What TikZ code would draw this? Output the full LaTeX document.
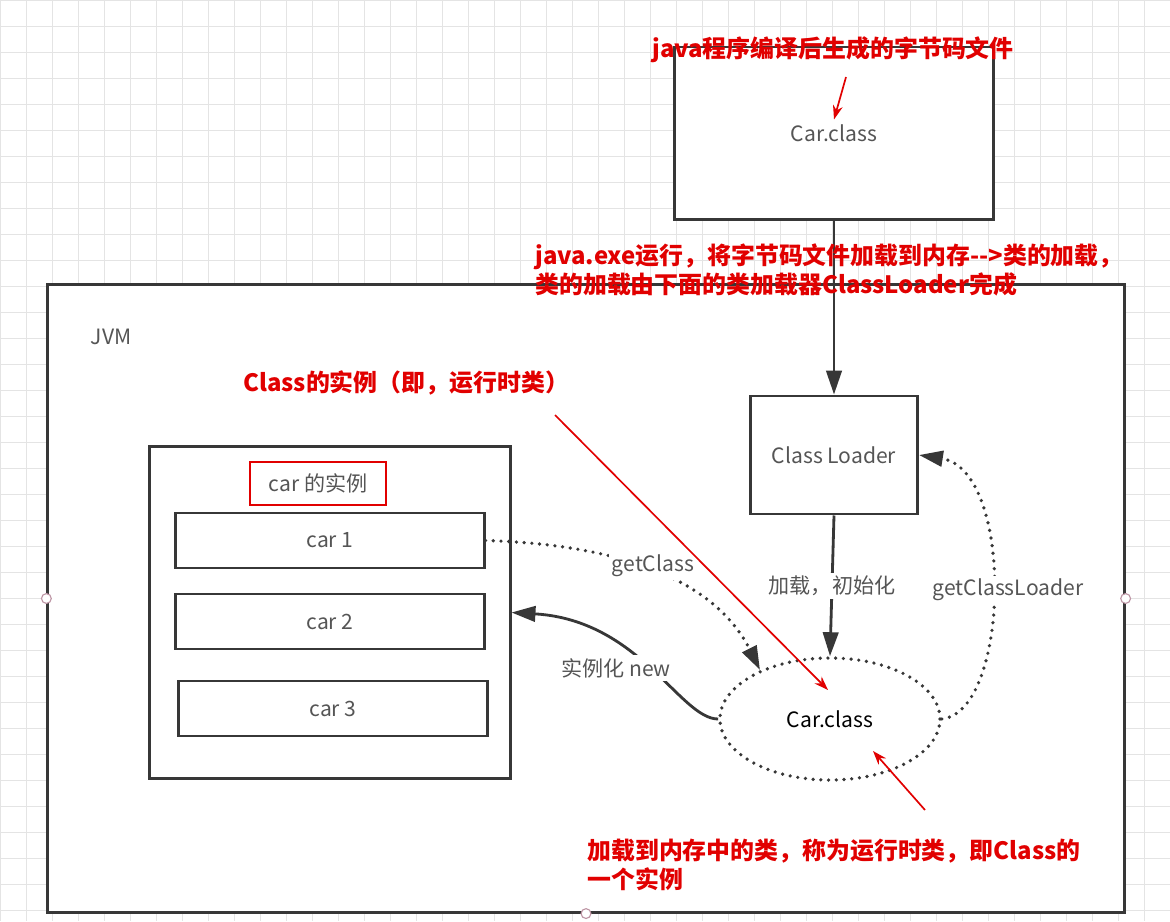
\documentclass[tikz,border=0pt]{standalone}
\usepackage{fontspec}
\setmainfont{Noto Sans CJK SC}
\usetikzlibrary{arrows.meta,shapes.geometric}
\definecolor{inkgray}{RGB}{55,55,55}
\definecolor{txtgray}{RGB}{85,85,85}
\definecolor{notered}{RGB}{225,0,0}
\definecolor{gridgray}{RGB}{228,228,228}
\definecolor{handlecol}{RGB}{190,150,165}

\begin{document}
\begin{tikzpicture}[x=0.025cm,y=-0.025cm,
    box/.style={draw=inkgray, line width=2.1pt, fill=white, inner sep=0pt},
    gtxt/.style={text=txtgray, font=\fontsize{15}{18}\selectfont},
    note/.style={text=notered, font=\bfseries\fontsize{17}{21}\selectfont, align=left, inner sep=0pt},
    conn/.style={draw=inkgray, line width=2pt, -{Triangle[length=17pt,width=11pt]}},
    dots/.style={conn, line width=2.6pt, line cap=round, dash pattern=on 0pt off 5.5pt},
    redarr/.style={draw=notered, line width=1.2pt, -{Stealth[length=10pt,width=7pt]}},
    lab/.style={gtxt, fill=white, inner sep=2pt}]
    \useasboundingbox (0,0) rectangle (1170,921);
    \fill[white] (0,0) rectangle (1170,921);
    \draw[gridgray, line width=0.6pt, step=0.65cm] (0,0) grid (1170,921);

    % JVM
    \node[box, minimum width=26.9cm, minimum height=15.675cm] (jvm) at (586,598.5) {};
    \node[gtxt, anchor=west] (jvmlab) at (86,337) {JVM};
    \foreach \h in {west,east,south}
        \draw[handlecol, fill=white, line width=0.8pt] (jvm.\h) circle (3.5pt);

    % bytecode file
    \node[box, minimum width=7.975cm, minimum height=4.3cm] (bytecode) at (834,133) {};
    \node[gtxt] (topcar) at (834,133) {Car.class};
    \node[note] (toplab) at (833,50) {java程序编译后生成的字节码文件};
    \coordinate (p1) at (846,77);
    \draw[redarr] (p1) -- (topcar.north);

    % loader
    \node[box, gtxt, minimum width=4.175cm, minimum height=2.95cm] (loader) at (834,455) {Class Loader};
    \draw[conn] (bytecode.south) -- (loader.north);
    \node[note, anchor=west] (loadlab) at (535,270) {java.exe运行，将字节码文件加载到内存-{}-{}>类的加载，\\类的加载由下面的类加载器ClassLoader完成};

    % instances
    \node[box, minimum width=9cm, minimum height=8.275cm] (inst) at (330,612.5) {};
    \node[gtxt, draw=notered, line width=1pt, minimum width=3.4cm, minimum height=1.075cm] (insttitle) at (318,483.5) {car 的实例};
    \node[box, gtxt, minimum width=7.7cm, minimum height=1.375cm] (car1) at (330,540.5) {car 1};
    \node[box, gtxt, minimum width=7.7cm, minimum height=1.375cm] (car2) at (330,621.5) {car 2};
    \node[box, gtxt, minimum width=7.7cm, minimum height=1.375cm] (car3) at (333,708.5) {car 3};

    % runtime class
    \node[ellipse, draw=inkgray, line width=2.6pt, line cap=round, dash pattern=on 0pt off 5.5pt,
        minimum width=5.5cm, minimum height=3.05cm, font=\fontsize{15}{18}\selectfont] (runtime) at (830,719) {Car.class};

    \draw[conn] (loader.south) -- node[lab] {加载，初始化} (runtime.north);
    \draw[dots] (car1.east) .. controls (640,545) and (720,590) .. (runtime.145);
    \node[lab] (getclass) at (653,566) {getClass};
    \draw[dots] (runtime.east) .. controls (1010,712) and (1015,470) .. (loader.east);
    \node[lab] (getloader) at (1008,590) {getClassLoader};
    \draw[conn] (runtime.west) .. controls (680,719) and (640,620) .. (inst.east);
    \node[lab] (newlab) at (616,668) {实例化 new};

    % red notes
    \node[note, anchor=west] (classlab) at (243,383) {Class的实例（即，运行时类）};
    \coordinate (p2) at (555,415);
    \coordinate (p3) at (828,690);
    \draw[redarr] (p2) -- (p3);
    \node[note, anchor=west] (memlab) at (587,865) {加载到内存中的类，称为运行时类，即Class的\\一个实例};
    \coordinate (p4) at (925,810);
    \coordinate (p5) at (873,751);
    \draw[redarr] (p4) -- (p5);
\end{tikzpicture}
\end{document}
